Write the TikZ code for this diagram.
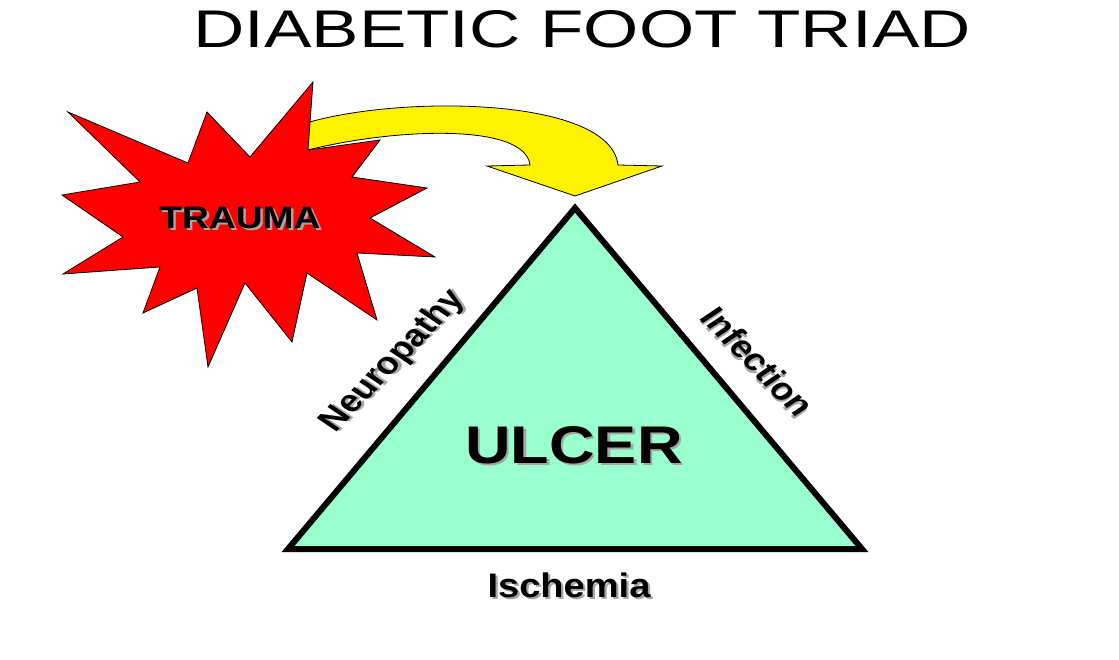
\documentclass[tikz,border=0pt]{standalone}
\usepackage{fontspec}
\setmainfont{Liberation Sans}
\usepackage{graphicx}
\definecolor{ulcergreen}{RGB}{153,255,204}
\newcommand{\shadowed}[1]{\makebox[0pt][l]{\hspace{2pt}\raisebox{-2pt}{\textcolor{black!35}{#1}}}#1}

\begin{document}
\begin{tikzpicture}[x=1pt,y=-1pt,
    lbl/.style={inner sep=0pt,font=\bfseries}]
    \useasboundingbox (0,0) rectangle (1119,660);
    \node[inner sep=0pt,anchor=base] (title) at (582,48) {\scalebox{1.34}[1]{\fontsize{53}{53}\selectfont DIABETIC FOOT TRIAD}};
    % curved arrow, behind the star
    \draw[fill=yellow,line width=0.8] (300,125) .. controls (390,95) and (610,95) .. (618,165) -- (662,166) -- (575,196) -- (487,166) -- (530,165) .. controls (525,122) and (390,128) .. (300,152) -- cycle;
    \draw[fill=red,line width=0.8,line join=miter] plot coordinates {(313,82) (308,150) (380,140) (352,177) (427,188) (370,218) (435,257) (357,253) (377,320) (307,273) (292,342) (245,283) (208,367) (197,288) (143,313) (160,267) (63,274) (123,237) (62,195) (140,182) (68,112) (188,163) (207,112) (250,157)} -- cycle;
    \node[lbl,anchor=base] (trauma) at (240,229) {\scalebox{1.2}[1]{\fontsize{31}{31}\selectfont\shadowed{TRAUMA}}};
    % triangle
    \coordinate (top) at (575,208);
    \coordinate (bl) at (288,549);
    \coordinate (br) at (862,549);
    \draw[line width=6,fill=ulcergreen] (top) -- (br) -- (bl) -- cycle;
    \node[lbl,anchor=base] (ulcer) at (574,463) {\scalebox{1.19}[1]{\fontsize{53}{53}\selectfont\shadowed{ULCER}}};
    \node[lbl,anchor=base] (isch) at (569,597) {\scalebox{1.12}[1]{\fontsize{34}{34}\selectfont\shadowed{Ischemia}}};
    \node[lbl] (neuro) at (394,362) {\scalebox{1.2}[1]{\rotatebox{51}{\fontsize{31}{31}\selectfont\shadowed{Neuropathy}}}};
    \node[lbl] (infect) at (757,362) {\scalebox{1.2}[1]{\rotatebox{-51}{\fontsize{31}{31}\selectfont\shadowed{Infection}}}};
\end{tikzpicture}
\end{document}
